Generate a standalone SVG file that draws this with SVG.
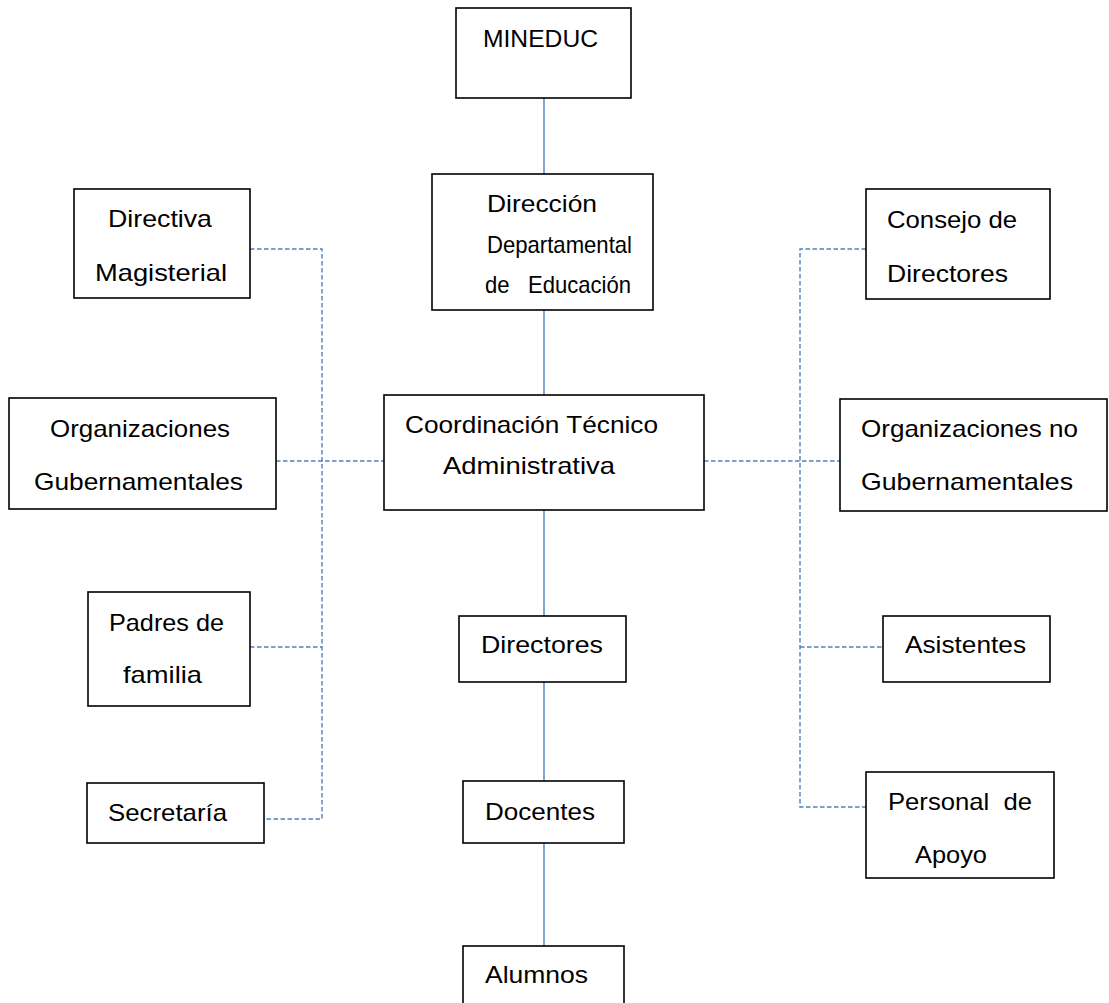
<svg xmlns="http://www.w3.org/2000/svg" width="1109" height="1003" viewBox="0 0 1109 1003">
<style>
.box{fill:#fff;stroke:#000;stroke-width:1.6}
.t{font-family:"Liberation Sans",Arial,sans-serif;font-size:24px;fill:#000}
.solid{stroke:#4F81BD;stroke-width:1.4;fill:none}
.dash{stroke:#4F81BD;stroke-width:1.4;fill:none;stroke-dasharray:4.5 2.5}
</style>
<rect x="0" y="0" width="1109" height="1003" fill="#fff"/>
<g id="connectors">
<line class="solid" x1="544" y1="98" x2="544" y2="174"/>
<line class="solid" x1="544" y1="310" x2="544" y2="395"/>
<line class="solid" x1="544" y1="510" x2="544" y2="616"/>
<line class="solid" x1="544" y1="682" x2="544" y2="781"/>
<line class="solid" x1="544" y1="843" x2="544" y2="946"/>
<polyline class="dash" points="250,249 322,249 322,819 264,819"/>
<line class="dash" x1="276" y1="461" x2="384" y2="461"/>
<line class="dash" x1="250" y1="647" x2="322" y2="647"/>
<polyline class="dash" points="866,249 800,249 800,807 866,807"/>
<line class="dash" x1="704" y1="461" x2="840" y2="461"/>
<line class="dash" x1="800" y1="647" x2="883" y2="647"/>
</g>
<g id="mineduc"><rect class="box" x="456" y="8" width="175" height="90"/>
<text class="t" x="483" y="47" textLength="115" lengthAdjust="spacingAndGlyphs">MINEDUC</text></g>
<g id="direccion"><rect class="box" x="432" y="174" width="221" height="136"/>
<text class="t" x="487" y="212" textLength="110" lengthAdjust="spacingAndGlyphs">Dirección</text>
<text class="t" x="487" y="253" textLength="145" lengthAdjust="spacingAndGlyphs">Departamental</text>
<text class="t" x="485" y="293" textLength="146" lengthAdjust="spacingAndGlyphs" xml:space="preserve">de   Educación</text></g>
<g id="coordinacion"><rect class="box" x="384" y="395" width="320" height="115"/>
<text class="t" x="405" y="433" textLength="253" lengthAdjust="spacingAndGlyphs">Coordinación Técnico</text>
<text class="t" x="443" y="474" textLength="172" lengthAdjust="spacingAndGlyphs">Administrativa</text></g>
<g id="directiva"><rect class="box" x="74" y="189" width="176" height="109"/>
<text class="t" x="108" y="227" textLength="104" lengthAdjust="spacingAndGlyphs">Directiva</text>
<text class="t" x="95" y="281" textLength="132" lengthAdjust="spacingAndGlyphs">Magisterial</text></g>
<g id="org-gub"><rect class="box" x="9" y="398" width="267" height="111"/>
<text class="t" x="50" y="437" textLength="180" lengthAdjust="spacingAndGlyphs">Organizaciones</text>
<text class="t" x="34" y="490" textLength="209" lengthAdjust="spacingAndGlyphs">Gubernamentales</text></g>
<g id="padres"><rect class="box" x="88" y="592" width="162" height="114"/>
<text class="t" x="109" y="631" textLength="115" lengthAdjust="spacingAndGlyphs">Padres de</text>
<text class="t" x="123" y="683" textLength="79" lengthAdjust="spacingAndGlyphs">familia</text></g>
<g id="secretaria"><rect class="box" x="87" y="783" width="177" height="60"/>
<text class="t" x="108" y="821" textLength="119" lengthAdjust="spacingAndGlyphs">Secretaría</text></g>
<g id="consejo"><rect class="box" x="866" y="189" width="184" height="110"/>
<text class="t" x="887" y="228" textLength="130" lengthAdjust="spacingAndGlyphs">Consejo de</text>
<text class="t" x="887" y="282" textLength="121" lengthAdjust="spacingAndGlyphs">Directores</text></g>
<g id="org-no-gub"><rect class="box" x="840" y="399" width="267" height="112"/>
<text class="t" x="861" y="437" textLength="217" lengthAdjust="spacingAndGlyphs">Organizaciones no</text>
<text class="t" x="861" y="490" textLength="212" lengthAdjust="spacingAndGlyphs">Gubernamentales</text></g>
<g id="asistentes"><rect class="box" x="883" y="616" width="167" height="66"/>
<text class="t" x="905" y="653" textLength="121" lengthAdjust="spacingAndGlyphs">Asistentes</text></g>
<g id="personal"><rect class="box" x="866" y="772" width="188" height="106"/>
<text class="t" x="888" y="810" textLength="144" lengthAdjust="spacingAndGlyphs" xml:space="preserve">Personal  de</text>
<text class="t" x="915" y="863" textLength="72" lengthAdjust="spacingAndGlyphs">Apoyo</text></g>
<g id="directores"><rect class="box" x="459" y="616" width="167" height="66"/>
<text class="t" x="481" y="653" textLength="122" lengthAdjust="spacingAndGlyphs">Directores</text></g>
<g id="docentes"><rect class="box" x="463" y="781" width="161" height="62"/>
<text class="t" x="485" y="820" textLength="110" lengthAdjust="spacingAndGlyphs">Docentes</text></g>
<g id="alumnos"><rect class="box" x="463" y="946" width="161" height="70"/>
<text class="t" x="485" y="983" textLength="103" lengthAdjust="spacingAndGlyphs">Alumnos</text></g>
</svg>
